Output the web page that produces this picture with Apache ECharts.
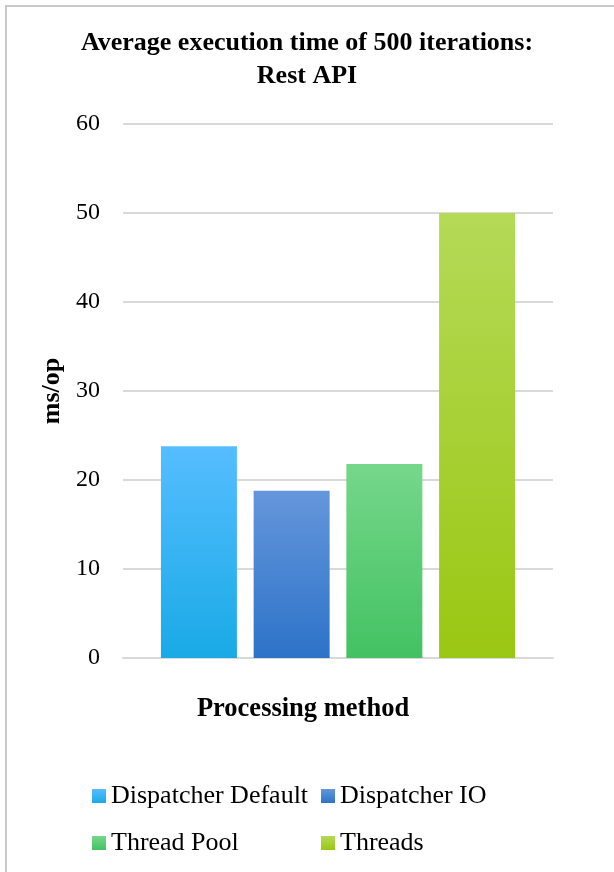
<!DOCTYPE html>
<html>
<head>
<meta charset="utf-8">
<script src="https://cdn.jsdelivr.net/npm/echarts@6/dist/echarts.min.js"></script>
<style>
html,body{margin:0;padding:0;background:#fff;}
#wrap{position:relative;width:614px;height:872px;overflow:hidden;}
#frame{position:absolute;left:5px;top:5px;width:700px;height:900px;border-left:2px solid #C9C9C9;border-top:2px solid #C9C9C9;box-sizing:border-box;}
#chart{position:absolute;left:0;top:0;width:614px;height:872px;}
</style>
</head>
<body>
<div id="wrap"><div id="frame"></div><div id="chart"></div></div>
<script>
const titleText = 'Average execution time of 500 iterations:\nRest API';
const seriesNames = ['Dispatcher Default', 'Dispatcher IO', 'Thread Pool', 'Threads'];
const values = [23.8, 18.8, 21.8, 50.0];
const yMin = 0, yMax = 60, yInterval = 10;
const xAxisName = 'Processing method';
const yAxisName = 'ms/op';
const gradients = [
  ['#56BDFF', '#19AAE6'],
  ['#6596DB', '#2C73C8'],
  ['#76D78B', '#43C262'],
  ['#B4DA57', '#9AC712']
];
const FONT = '"Liberation Serif", "Times New Roman", serif';

function grad(c) {
  return new echarts.graphic.LinearGradient(0, 0, 0, 1, [
    {offset: 0, color: c[0]}, {offset: 1, color: c[1]}
  ]);
}

const chart = echarts.init(document.getElementById('chart'), null, {renderer: 'canvas'});
const series = seriesNames.map((n, i) => ({
  name: n,
  type: 'bar',
  data: [values[i]],
  barWidth: 76,
  barGap: '22%',
  itemStyle: {color: grad(gradients[i])},
  emphasis: {disabled: true}
}));

const legendText = {fontFamily: FONT, fontSize: 26, color: '#000'};

chart.setOption({
  animation: false,
  backgroundColor: 'transparent',
  textStyle: {fontFamily: FONT},
  title: {
    text: titleText,
    left: 'center',
    top: 22,
    textStyle: {fontFamily: FONT, fontWeight: 'bold', fontSize: 26, color: '#000', lineHeight: 33}
  },
  grid: {left: 123, right: 61, top: 124, bottom: 214, containLabel: false},
  xAxis: {
    type: 'category',
    data: [''],
    name: xAxisName,
    nameLocation: 'middle',
    nameGap: 38,
    nameTextStyle: {fontFamily: FONT, fontWeight: 'bold', fontSize: 26.5, color: '#000', padding: [0, 70, 0, 0]},
    axisLine: {show: true, lineStyle: {color: '#D9D9D9', width: 2}},
    axisTick: {show: false},
    axisLabel: {show: false}
  },
  yAxis: {
    type: 'value',
    min: yMin, max: yMax, interval: yInterval,
    name: yAxisName,
    nameLocation: 'middle',
    nameGap: 57,
    nameTextStyle: {fontFamily: FONT, fontWeight: 'bold', fontSize: 26, color: '#000'},
    axisLine: {show: false},
    axisTick: {show: false},
    axisLabel: {fontFamily: FONT, fontSize: 24, color: '#000', margin: 23},
    splitLine: {lineStyle: {color: '#D9D9D9', width: 2}}
  },
  legend: [
    {
      data: [seriesNames[0], seriesNames[2]],
      orient: 'vertical',
      left: 92, top: 783, padding: 0,
      itemWidth: 14, itemHeight: 14, itemGap: 21, itemTextGap: 6,
      icon: 'rect',
      textStyle: legendText
    },
    {
      data: [seriesNames[1], seriesNames[3]],
      orient: 'vertical',
      left: 321, top: 783, padding: 0,
      itemWidth: 14, itemHeight: 14, itemGap: 21, itemTextGap: 6,
      icon: 'rect',
      textStyle: legendText
    }
  ],
  series: series
});
</script>
</body>
</html>
